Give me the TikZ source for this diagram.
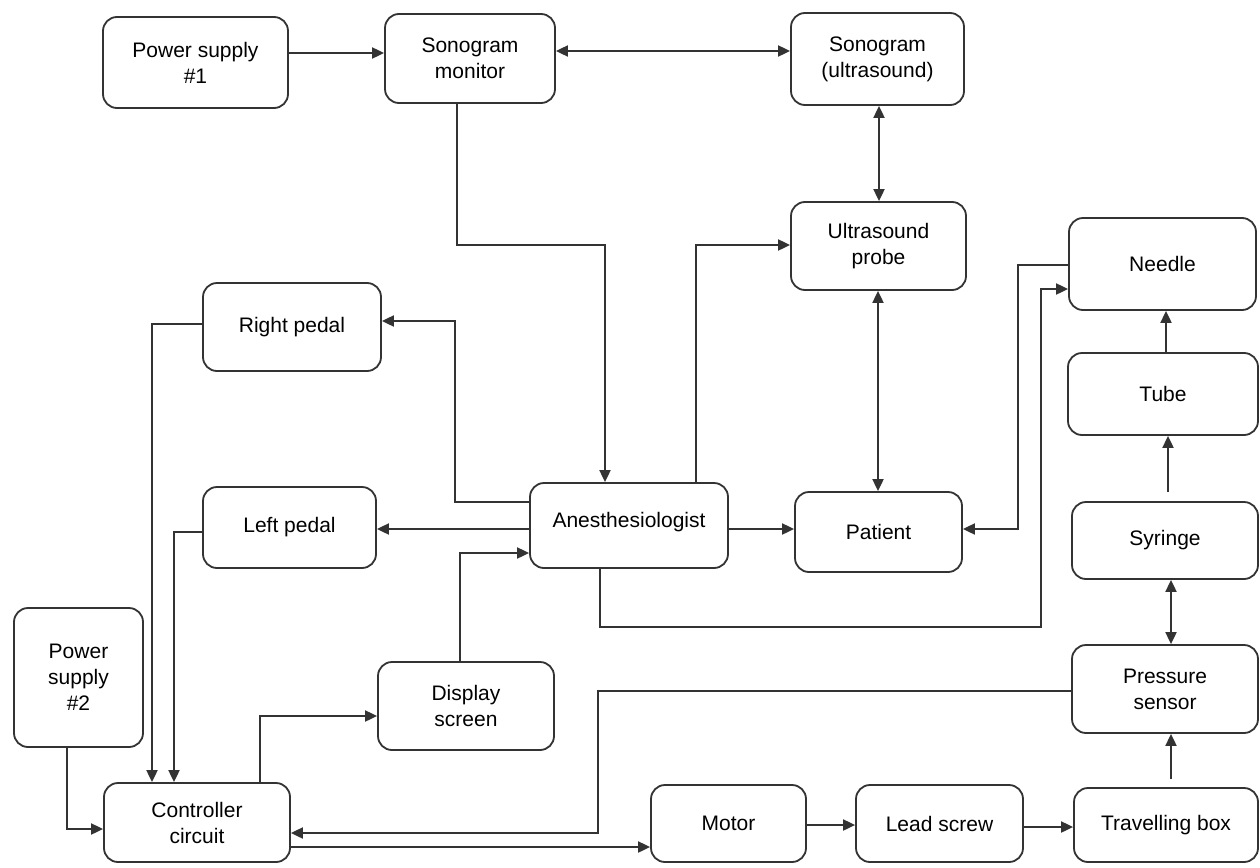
\documentclass[tikz,border=0pt]{standalone}
\usepackage{fontspec}
\setmainfont{Liberation Sans}
\usetikzlibrary{arrows.meta}
\begin{document}
\begin{tikzpicture}[x=1pt,y=-1pt,
  box/.style={draw=black!80, line width=1.8pt, rounded corners=14pt, align=center,
    font=\fontsize{21}{26}\selectfont, inner sep=0pt},
  arr/.style={draw=black!80, line width=1.9pt, -{Triangle[length=12pt,width=11pt]}},
  darr/.style={draw=black!80, line width=1.9pt, {Triangle[length=12pt,width=11pt]}-{Triangle[length=12pt,width=11pt]}}]
\fill[white] (0,0) rectangle (1260,867);
\useasboundingbox (0,0) rectangle (1260,867);

\node[box, minimum width=185pt, minimum height=91pt] (ps1) at (195.5,62.5) {Power supply\\\#1};
\node[box, minimum width=170pt, minimum height=89pt] (smon) at (470,58.5) {Sonogram\\monitor};
\node[box, minimum width=173pt, minimum height=92pt] (sono) at (877.5,59) {Sonogram\\(ultrasound)};
\node[box, minimum width=175pt, minimum height=88pt] (probe) at (878.5,246) {Ultrasound\\probe};
\node[box, minimum width=187pt, minimum height=92pt] (needle) at (1162.5,264) {Needle};
\node[box, minimum width=178pt, minimum height=88pt] (rped) at (292,327) {Right pedal};
\node[box, minimum width=173pt, minimum height=81pt] (lped) at (289.5,527.5) {Left pedal};
\node[box, minimum width=198pt, minimum height=85pt, text depth=12pt] (anes) at (629,525.5) {Anesthesiologist};
\node[box, minimum width=167pt, minimum height=80pt] (patient) at (878.5,532) {Patient};
\node[box, minimum width=190pt, minimum height=82pt] (tube) at (1163,394) {Tube};
\node[box, minimum width=186pt, minimum height=77pt] (syringe) at (1165,540.5) {Syringe};
\node[box, minimum width=186pt, minimum height=88pt] (psens) at (1165,689) {Pressure\\sensor};
\node[box, minimum width=184pt, minimum height=74pt] (tbox) at (1166,825) {Travelling box};
\node[box, minimum width=167pt, minimum height=77pt] (lscrew) at (939.5,823.5) {Lead screw};
\node[box, minimum width=155pt, minimum height=77pt] (motor) at (728.5,823.5) {Motor};
\node[box, minimum width=129pt, minimum height=139pt] (ps2) at (78.5,677.5) {Power\\supply\\\#2};
\node[box, minimum width=186pt, minimum height=79pt] (ctrl) at (197,822.5) {Controller\\circuit};
\node[box, minimum width=176pt, minimum height=88pt] (disp) at (466,706) {Display\\screen};

\coordinate (tbup) at (1171,779);
\coordinate (syup) at (1168,492);

\draw[arr] (ps1.east |- 0,53) -- (smon.west |- 0,53);
\draw[darr] (smon.east |- 0,51) -- (sono.west |- 0,51);
\draw[arr] (smon.south -| 457,0) -- (457,245) -- (605,245) -- (anes.north -| 605,0);
\draw[darr] (sono.south -| 879,0) -- (probe.north -| 879,0);
\draw[darr] (probe.south -| 878,0) -- (patient.north -| 878,0);
\draw[arr] (anes.north -| 696,0) -- (696,245) -- (probe.west |- 0,245);
\draw[arr] (anes.east |- 0,529) -- (patient.west |- 0,529);
\draw[arr] (anes.west |- 0,529) -- (lped.east |- 0,529);
\draw[arr] (anes.west |- 0,502) -- (455,502) -- (455,321) -- (rped.east |- 0,321);
\draw[arr] (disp.north -| 460,0) -- (460,553) -- (anes.west |- 0,553);
\draw[arr] (rped.west |- 0,324) -- (152,324) -- (ctrl.north -| 152,0);
\draw[arr] (lped.west |- 0,532) -- (174,532) -- (ctrl.north -| 174,0);
\draw[arr] (ps2.south -| 67,0) -- (67,829) -- (ctrl.west |- 0,829);
\draw[arr] (ctrl.north -| 260,0) -- (260,716) -- (disp.west |- 0,716);
\draw[arr] (psens.west |- 0,691) -- (598,691) -- (598,833) -- (ctrl.east |- 0,833);
\draw[arr] (ctrl.east |- 0,847) -- (motor.west |- 0,847);
\draw[arr] (motor.east |- 0,825) -- (lscrew.west |- 0,825);
\draw[arr] (lscrew.east |- 0,827) -- (tbox.west |- 0,827);
\draw[arr] (tbup) -- (psens.south -| tbup);
\draw[darr] (psens.north -| 1171,0) -- (syringe.south -| 1171,0);
\draw[arr] (syup) -- (tube.south -| syup);
\draw[arr] (tube.north -| 1166,0) -- (needle.south -| 1166,0);
\draw[arr] (needle.west |- 0,265) -- (1018,265) -- (1018,529) -- (patient.east |- 0,529);
\draw[arr] (anes.south -| 600,0) -- (600,627) -- (1041,627) -- (1041,289) -- (needle.west |- 0,289);
\end{tikzpicture}
\end{document}
